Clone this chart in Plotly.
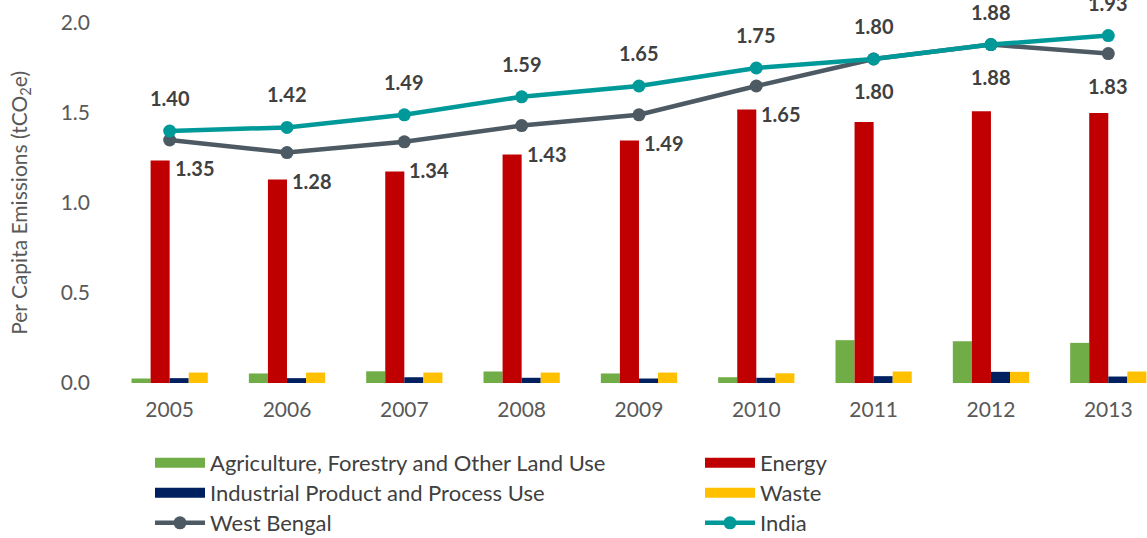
import plotly.graph_objects as go

years = ["2005", "2006", "2007", "2008", "2009", "2010", "2011", "2012", "2013"]
agri = [0.025, 0.053, 0.065, 0.064, 0.053, 0.032, 0.238, 0.232, 0.223]
energy = [1.236, 1.13, 1.175, 1.27, 1.347, 1.52, 1.45, 1.51, 1.50]
industry = [0.027, 0.027, 0.032, 0.029, 0.025, 0.029, 0.038, 0.062, 0.036]
waste = [0.058, 0.058, 0.058, 0.058, 0.058, 0.054, 0.064, 0.062, 0.064]
west_bengal = [1.35, 1.28, 1.34, 1.43, 1.49, 1.65, 1.80, 1.88, 1.83]
india = [1.40, 1.42, 1.49, 1.59, 1.65, 1.75, 1.80, 1.88, 1.93]
y_ticks = [0, 0.5, 1.0, 1.5, 2.0]

FONT = "Lato"
TXT = "#404040"
LBL = dict(family=FONT, size=20, color=TXT, weight="bold")

fig = go.Figure()
bar_specs = [
    ("Agriculture, Forestry and Other Land Use", agri, "#70AD47", "legend"),
    ("Energy", energy, "#C00000", "legend2"),
    ("Industrial Product and Process Use", industry, "#002060", "legend3"),
    ("Waste", waste, "#FFC000", "legend4"),
]
for name, vals, col, lg in bar_specs:
    fig.add_trace(go.Bar(x=years, y=vals, name=name, marker_color=col,
                         marker_line_width=0, showlegend=False))

fig.add_trace(go.Scatter(x=years, y=west_bengal, name="West Bengal", mode="lines+markers",
                         line=dict(color="#4D5A63", width=4.5), marker=dict(size=13, color="#4D5A63"),
                         legend="legend5"))
fig.add_trace(go.Scatter(x=years, y=india, name="India", mode="lines+markers",
                         line=dict(color="#00999A", width=4.5), marker=dict(size=13, color="#00999A"),
                         legend="legend6"))

# legend-only proxies giving the wide rectangular swatches of the bar series
for name, vals, col, lg in bar_specs:
    fig.add_trace(go.Scatter(x=[None], y=[None], mode="lines", name=name,
                             line=dict(color=col, width=16), legend=lg, hoverinfo="skip"))

annotations = []
for i, v in enumerate(india):
    annotations.append(dict(x=i, y=v, text=f"{v:.2f}", showarrow=False, xanchor="center",
                            yanchor="middle", yshift=33, font=LBL))
for i, v in enumerate(west_bengal):
    if i < 6:
        annotations.append(dict(x=i, y=v, text=f"{v:.2f}", showarrow=False, xanchor="left",
                                yanchor="middle", xshift=3, yshift=-28, font=LBL))
    else:
        annotations.append(dict(x=i, y=v, text=f"{v:.2f}", showarrow=False, xanchor="center",
                                yanchor="middle", yshift=-32, font=LBL))
annotations.append(dict(xref="paper", yref="paper", x=-0.088, y=0.5, textangle=-90,
                        text="Per Capita Emissions (tCO<sub>2</sub>e)", showarrow=False,
                        xanchor="center", yanchor="middle",
                        font=dict(family=FONT, size=21, color="#595959")))

leg_common = dict(orientation="v", xref="container", yref="container", xanchor="left", yanchor="top",
                  traceorder="normal", itemwidth=50,
                  font=dict(family=FONT, size=22, color=TXT), bgcolor="rgba(0,0,0,0)")

legends = {}
cols_x = [150, 700]
rows_top = [442, 472, 502]
for k in range(6):
    key = "legend" if k == 0 else f"legend{k + 1}"
    legends[key] = dict(x=cols_x[k % 2] / 1147, y=1 - rows_top[k // 2] / 538, **leg_common)

fig.update_layout(
    width=1147, height=538,
    margin=dict(l=111, r=0, t=23, b=155, autoexpand=False),
    paper_bgcolor="white", plot_bgcolor="white",
    barmode="group", bargap=0.35, bargroupgap=0,
    font=dict(family=FONT, size=20, color=TXT),
    annotations=annotations,
    xaxis=dict(type="category", range=[-0.5, 8.33], showgrid=False, showline=False, zeroline=False,
               ticks="", ticklabelstandoff=12, tickfont=dict(family=FONT, size=21, color="#595959")),
    yaxis=dict(range=[0, 2.0], tickvals=y_ticks, tickformat=".1f", showgrid=False, showline=False,
               zeroline=False, ticks="", ticklabelstandoff=20,
               tickfont=dict(family=FONT, size=21, color="#595959")),
    **legends,
)

fig.write_html("out.html")
